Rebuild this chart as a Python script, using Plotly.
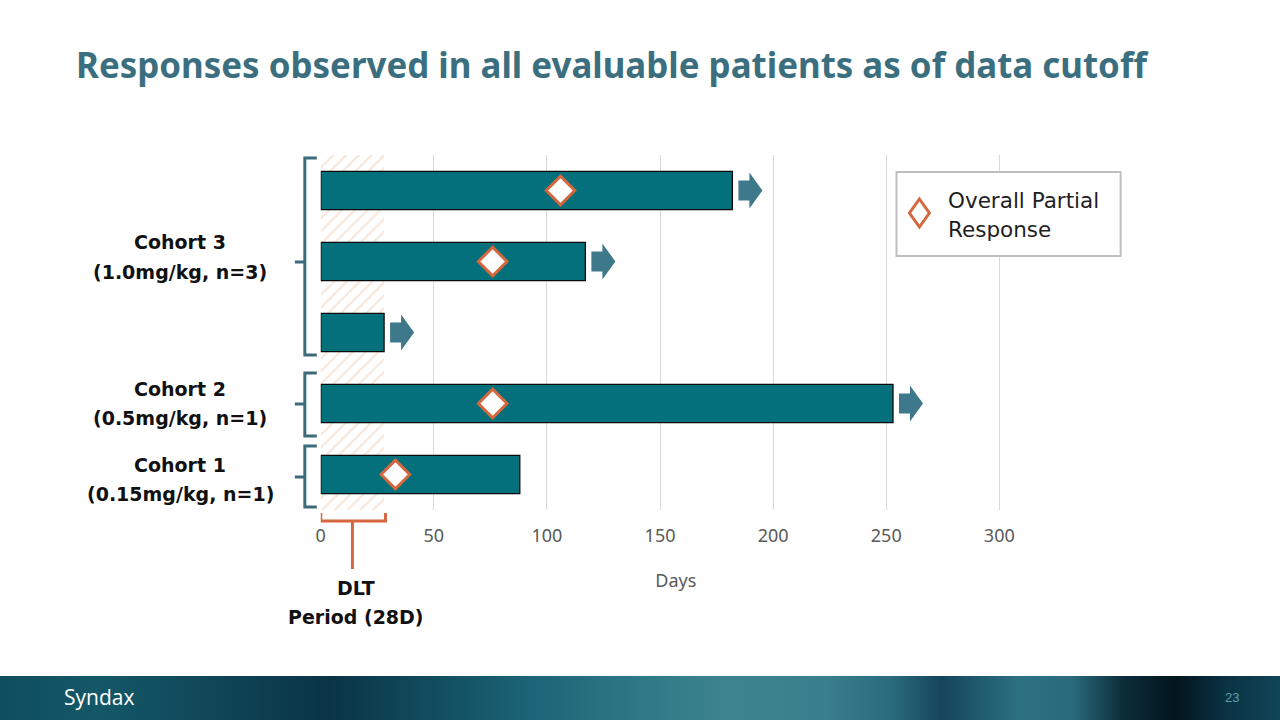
import base64
import plotly.graph_objects as go

# ---------------- data ----------------
patients = ["Cohort 3 - pt 1", "Cohort 3 - pt 2", "Cohort 3 - pt 3", "Cohort 2 - pt 1", "Cohort 1 - pt 1"]
days_on_study = [182, 117, 28, 253, 88]
partial_response_day = [106, 76, None, 76, 33]
ongoing = [True, True, True, True, False]
dlt_period_days = 28
x_ticks = [0, 50, 100, 150, 200, 250, 300]
cohort_line1 = ["Cohort 3", "Cohort 2", "Cohort 1"]
cohort_line2 = ["(1.0mg/kg, n=3)", "(0.5mg/kg, n=1)", "(0.15mg/kg, n=1)"]
title_text = "Responses observed in all evaluable patients as of data cutoff"
legend_lines = ["Overall Partial", "Response"]

# ---------------- styling ----------------
W, H = 1280, 720
FONT = "Noto Sans"
LABEL_FONT = "DejaVu Sans"
TEAL_BAR = "#03707b"
ARROW = "#3e788b"
ORANGE = "#d5673e"
BRACE = "#3d6b7b"
TITLE_C = "#3b6f80"

def py(p):  # pixel y -> paper y
    return (H - p) / H

def px(p):
    return p / W

rows = list(range(len(patients)))

fig = go.Figure()

# DLT hatch band (drawn as a bar under the patient bars)
fig.add_trace(go.Bar(
    x=[dlt_period_days], y=[(len(rows) - 1) / 2], base=[0], orientation="h", width=[len(rows)],
    marker=dict(color="white", line=dict(width=0),
                pattern=dict(shape="/", fgcolor="#efcbb3", bgcolor="white", size=9, solidity=0.22)),
    showlegend=False, hoverinfo="skip"))

# Bars
fig.add_trace(go.Bar(
    x=days_on_study, y=rows, orientation="h", width=0.54,
    marker=dict(color=TEAL_BAR, line=dict(color="#0a0a0a", width=1.3)),
    showlegend=False, hoverinfo="x"))

# Partial response markers
resp_x = [v for v in partial_response_day if v is not None]
resp_y = [r for r, v in zip(rows, partial_response_day) if v is not None]
fig.add_trace(go.Scatter(
    x=resp_x, y=resp_y, mode="markers", name="Overall Partial Response",
    marker=dict(symbol="diamond", size=22, color="white", line=dict(color=ORANGE, width=3)),
    showlegend=False))

shapes = []
# Ongoing arrows (block arrows anchored at bar end)
arrow_path = "M 6,-10 L 17,-10 L 17,-18 L 30,0 L 17,18 L 17,10 L 6,10 Z"
for r, d, og in zip(rows, days_on_study, ongoing):
    if og:
        shapes.append(dict(type="path", xref="x", yref="y", xsizemode="pixel", ysizemode="pixel",
                           xanchor=d, yanchor=r, path=arrow_path,
                           fillcolor=ARROW, line=dict(width=0), layer="above"))

# Cohort braces
def brace(top, bottom, mid):
    xv, xr, xn = 301, 313, 291
    path = (f"M {px(xr)},{py(top)} L {px(xv)},{py(top)} L {px(xv)},{py(bottom)} L {px(xr)},{py(bottom)} "
            f"M {px(xv)},{py(mid)} L {px(xn)},{py(mid)}")
    return dict(type="path", xref="paper", yref="paper", path=path,
                line=dict(color=BRACE, width=3))

shapes.append(brace(158, 355, 262))
shapes.append(brace(373, 436, 404))
shapes.append(brace(446, 507, 477))

# DLT bracket (x in days, y in page position)
dx1 = dlt_period_days + 0.6
dxm = dlt_period_days / 2
dlt_path = (f"M 0,{py(513)} L 0,{py(521)} L {dx1},{py(521)} L {dx1},{py(513)} "
            f"M {dxm},{py(521)} L {dxm},{py(569)}")
shapes.append(dict(type="path", xref="x", yref="paper", path=dlt_path,
                   line=dict(color=ORANGE, width=3)))

# Legend box + key
shapes.append(dict(type="rect", xref="paper", yref="paper", x0=px(895), x1=px(1120), y0=py(256), y1=py(172),
                   line=dict(color="#bfbfbf", width=2), fillcolor="white", layer="above"))
kx, ky, hw, hh = 918, 213, 10, 14
key_path = (f"M {px(kx)},{py(ky - hh)} L {px(kx + hw)},{py(ky)} L {px(kx)},{py(ky + hh)} "
            f"L {px(kx - hw)},{py(ky)} Z")
shapes.append(dict(type="path", xref="paper", yref="paper", path=key_path,
                   fillcolor="white", line=dict(color=ORANGE, width=3), layer="above"))

annotations = []
# Title
annotations.append(dict(text=f"<b>{title_text}</b>", x=px(69), y=py(64), xref="paper", yref="paper",
                        xanchor="left", yanchor="middle", showarrow=False,
                        font=dict(family=FONT, size=34.9, color=TITLE_C)))
# Cohort labels
label_y = [(242, 272), (389, 418), (465, 494)]
for l1, l2, (y1, y2) in zip(cohort_line1, cohort_line2, label_y):
    for t, yy in ((l1, y1), (l2, y2)):
        annotations.append(dict(text=f"<b>{t}</b>", x=px(176), y=py(yy), xref="paper", yref="paper",
                                xanchor="center", yanchor="middle", showarrow=False,
                                font=dict(family=LABEL_FONT, size=19, color="#111111")))
# DLT label
for t, yy in (("DLT", 588), ("Period (28D)", 617)):
    annotations.append(dict(text=f"<b>{t}</b>", x=px(352), y=py(yy), xref="paper", yref="paper",
                            xanchor="center", yanchor="middle", showarrow=False,
                            font=dict(family=LABEL_FONT, size=19, color="#111111")))
# Legend text
for t, yy in zip(legend_lines, (200, 229)):
    annotations.append(dict(text=t, x=px(945), y=py(yy), xref="paper", yref="paper",
                            xanchor="left", yanchor="middle", showarrow=False,
                            font=dict(family=LABEL_FONT, size=21.5, color="#1e1e1e")))
# Footer text
annotations.append(dict(text="Syndax", x=px(57), y=py(697), xref="paper", yref="paper",
                        xanchor="left", yanchor="middle", showarrow=False,
                        font=dict(family="Open Sans", size=21, color="white")))
annotations.append(dict(text="23", x=px(1232), y=py(697), xref="paper", yref="paper",
                        xanchor="center", yanchor="middle", showarrow=False,
                        font=dict(family="Liberation Sans", size=13, color="#5aa0b0")))

# Footer gradient image
svg = f"""<svg xmlns='http://www.w3.org/2000/svg' width='1280' height='44' viewBox='0 0 1280 44' preserveAspectRatio='none'>
<defs><linearGradient id='g' x1='0' y1='0' x2='1' y2='0'>
<stop offset='0' stop-color='#0f4d5e'/>
<stop offset='0.08' stop-color='#145868'/>
<stop offset='0.21' stop-color='#0d3e50'/>
<stop offset='0.26' stop-color='#0a3446'/>
<stop offset='0.33' stop-color='#104a5c'/>
<stop offset='0.42' stop-color='#1d6679'/>
<stop offset='0.5' stop-color='#2e7986'/>
<stop offset='0.56' stop-color='#3d838f'/>
<stop offset='0.64' stop-color='#3a7f8d'/>
<stop offset='0.69' stop-color='#2a6c7d'/>
<stop offset='0.73' stop-color='#16455d'/>
<stop offset='0.79' stop-color='#2c7182'/>
<stop offset='0.83' stop-color='#2a6b7d'/>
<stop offset='0.87' stop-color='#0c2c39'/>
<stop offset='0.91' stop-color='#03151d'/>
<stop offset='0.95' stop-color='#0a3344'/>
<stop offset='1' stop-color='#114a5c'/>
</linearGradient></defs>
<rect x='0' y='0' width='1280' height='44' fill='url(#g)'/>
</svg>"""
img_src = "data:image/svg+xml;base64," + base64.b64encode(svg.encode()).decode()

fig.update_layout(
    width=W, height=H,
    margin=dict(l=0, r=0, t=0, b=0),
    paper_bgcolor="white", plot_bgcolor="white",
    font=dict(family=FONT),
    barmode="overlay",
    shapes=shapes,
    annotations=annotations,
    images=[dict(source=img_src, xref="paper", yref="paper", x=-0.01, y=py(676),
                 sizex=1.02, sizey=44 / H, sizing="stretch", xanchor="left", yanchor="top", layer="below")],
    xaxis=dict(domain=[px(317), px(1030)], range=[0, 314], tickvals=x_ticks,
               showgrid=True, gridcolor="#d9d9d9", gridwidth=1, zeroline=False, showline=False,
               ticks="", ticklabelstandoff=13,
               tickfont=dict(family=FONT, size=18, color="#595959"),
               title=dict(text="Days", font=dict(family=FONT, size=18, color="#595959"), standoff=28)),
    yaxis=dict(domain=[py(510), py(155)], range=[len(rows) - 0.5, -0.5], showticklabels=False,
               showgrid=False, zeroline=False, showline=False),
    showlegend=False,
)

fig.write_html("out.html")
